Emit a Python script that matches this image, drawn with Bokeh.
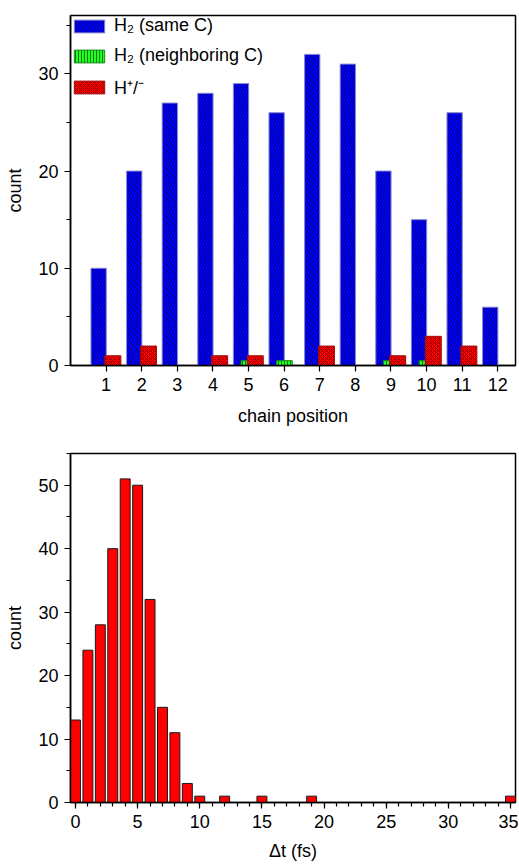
from bokeh.plotting import figure
from bokeh.layouts import column
from bokeh.models import (ColumnDataSource, Legend, LegendItem, FixedTicker,
                          SingleIntervalTicker, Range1d)
from bokeh.transform import dodge
from bokeh.embed import file_html
from bokeh.resources import INLINE

# ---- data: top chart ----
positions = [1, 2, 3, 4, 5, 6, 7, 8, 9, 10, 11, 12]
h2_same_c = [10, 20, 27, 28, 29, 26, 32, 31, 20, 15, 26, 6]
h2_neighboring_c = [0, 0, 0, 0, 0.5, 0.5, 0, 0, 0.5, 0.5, 0, 0]
h_pm = [1, 2, 0, 1, 1, 0, 2, 0, 1, 3, 2, 0]

# ---- data: bottom chart ----
dt_fs = [0, 1, 2, 3, 4, 5, 6, 7, 8, 9, 10, 12, 15, 19, 35]
dt_counts = [13, 24, 28, 40, 51, 50, 32, 15, 11, 3, 1, 1, 1, 1, 1]

FONT = "Liberation Sans"
FS = "18px"


def style(p):
    p.grid.visible = False
    p.outline_line_color = "black"
    p.outline_line_width = 1.5
    p.background_fill_color = "white"
    p.border_fill_color = "white"
    for ax in p.axis:
        ax.axis_line_color = "black"
        ax.axis_line_width = 1.5
        ax.major_tick_line_color = "black"
        ax.minor_tick_line_color = "black"
        ax.major_tick_line_width = 1.2
        ax.minor_tick_line_width = 1.2
        ax.major_tick_in = 0
        ax.major_tick_out = 6
        ax.minor_tick_in = 0
        ax.minor_tick_out = 4
        ax.major_label_text_font = FONT
        ax.major_label_text_font_size = FS
        ax.major_label_text_color = "black"
        ax.axis_label_text_font = FONT
        ax.axis_label_text_font_size = FS
        ax.axis_label_text_font_style = "normal"
        ax.axis_label_text_color = "black"
        ax.major_label_standoff = 6
    p.yaxis.axis_label_standoff = 10
    p.xaxis.axis_label_standoff = 12


# ---------------- top chart ----------------
src = ColumnDataSource(dict(pos=positions, same=h2_same_c,
                            neigh=h2_neighboring_c, hpm=h_pm))

p1 = figure(width=518, height=448, x_range=Range1d(0, 12.5), y_range=Range1d(0, 36),
            output_backend="svg", toolbar_location=None,
            min_border_left=70, min_border_right=3, min_border_top=15, min_border_bottom=83)

r_blue = p1.vbar(x=dodge("pos", -0.21, range=p1.x_range), top="same", width=0.43, source=src,
                 fill_color="#0000ff", line_color="#8a8ad0", line_width=1,
                 hatch_pattern="/", hatch_color="#00007a", hatch_scale=6, hatch_weight=1)
r_green = p1.vbar(x=dodge("pos", 0.01, range=p1.x_range), top="neigh", width=0.44, source=src,
                  fill_color="#22ff22", line_color="#1a8a1a", line_width=1,
                  hatch_pattern="|", hatch_color="#0a7a0a", hatch_scale=3, hatch_weight=1)
r_red = p1.vbar(x=dodge("pos", 0.19, range=p1.x_range), top="hpm", width=0.45, source=src,
                fill_color="#ff0000", line_color="#a01010", line_width=1,
                hatch_pattern="x", hatch_color="#8a0000", hatch_scale=4, hatch_weight=1)

style(p1)
p1.xaxis.ticker = FixedTicker(ticks=positions)
p1.xaxis.minor_tick_out = 0
p1.yaxis.ticker = SingleIntervalTicker(interval=10, num_minor_ticks=2)
p1.xaxis.axis_label = "chain position"
p1.yaxis.axis_label = "count"

legend = Legend(items=[
    LegendItem(label="H\u2082 (same C)", renderers=[r_blue]),
    LegendItem(label="H\u2082 (neighboring C)", renderers=[r_green]),
    LegendItem(label="H\u207a/\u207b", renderers=[r_red]),
], location="top_left")
legend.margin = 0
legend.padding = 9
legend.border_line_color = None
legend.background_fill_alpha = 0
legend.glyph_width = 38
legend.glyph_height = 16
legend.label_height = 16
legend.spacing = 9
legend.label_standoff = 6
legend.label_text_font = FONT
legend.label_text_font_size = FS
legend.label_text_color = "black"
p1.add_layout(legend)

# ---------------- bottom chart ----------------
src2 = ColumnDataSource(dict(dt=dt_fs, cnt=dt_counts))
p2 = figure(width=518, height=416, x_range=Range1d(-0.4, 35.4), y_range=Range1d(0, 55),
            output_backend="svg", toolbar_location=None,
            min_border_left=70, min_border_right=3, min_border_top=5, min_border_bottom=62)
p2.vbar(x="dt", top="cnt", width=0.8, source=src2,
        fill_color="#ff0000", line_color="#1a1a1a", line_width=1)
style(p2)
p2.xaxis.ticker = SingleIntervalTicker(interval=5, num_minor_ticks=5)
p2.yaxis.ticker = SingleIntervalTicker(interval=10, num_minor_ticks=2)
p2.xaxis.axis_label = "\u0394t (fs)"
p2.yaxis.axis_label = "count"
p2.xaxis.axis_label_standoff = 10

layout = column(p1, p2)
open("out.html", "w").write(file_html(layout, INLINE))
